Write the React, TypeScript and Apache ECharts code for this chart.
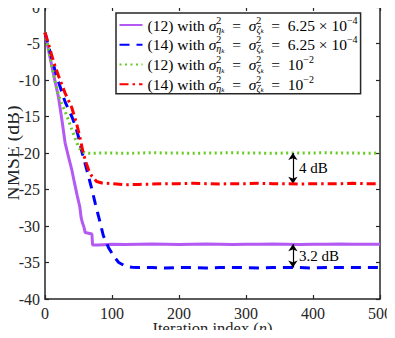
import React, { useEffect, useRef } from "react";
import * as echarts from "echarts";

const FONT = "Liberation Serif";

const xTicks = [0, 100, 200, 300, 400, 500];
const yTicks = [-40, -35, -30, -25, -20, -15, -10, -5, 0];

const seriesNames = [
  "(12) with σ²ηk = σ²ζk = 6.25 × 10^-4",
  "(14) with σ²ηk = σ²ζk = 6.25 × 10^-4",
  "(12) with σ²ηk = σ²ζk = 10^-2",
  "(14) with σ²ηk = σ²ζk = 10^-2",
];
const EQ = "\u2002=\u2002";
const TIMES = " × ";
const SIG = (g: string) => `{i|σ}{sup|2}{sub|${g}}{ss|k}`;
const legendRich = [
  `(12) with ${SIG("η")}${EQ}${SIG("ζ")}${EQ}6.25${TIMES}10{e|−4}`,
  `(14) with ${SIG("η")}${EQ}${SIG("ζ")}${EQ}6.25${TIMES}10{e|−4}`,
  `(12) with ${SIG("η")}${EQ}${SIG("ζ")}${EQ}10{e|−2}`,
  `(14) with ${SIG("η")}${EQ}${SIG("ζ")}${EQ}10{e|−2}`,
];
const colors = ["#B45AF2", "#0000FF", "#66CC22", "#FF0000"];

// (12), sigma^2 = 6.25e-4  (purple, solid)
const purpleN = [0, 5, 10, 15, 20, 25, 30, 35, 40, 44, 48, 52, 54, 56, 58, 60, 65, 70, 71, 80,
  100, 120, 140, 160, 180, 200, 220, 240, 260, 280, 300, 320, 340, 360, 380, 400, 420, 440, 460, 480, 500];
const purpleDb = [-3.5, -5.8, -8.0, -10.2, -12.3, -15.3, -18.6, -20.5, -22.3, -24.1, -25.8, -27.4, -28.9, -29.6, -30.1, -30.9, -31.0, -31.1, -32.6, -32.6,
  -32.5, -32.55, -32.5, -32.45, -32.5, -32.55, -32.5, -32.45, -32.5, -32.55, -32.5, -32.5, -32.45, -32.5, -32.55, -32.5, -32.5, -32.45, -32.5, -32.5, -32.5];

// (14), sigma^2 = 6.25e-4  (blue, dashed)
const blueN = [0, 5, 10, 15, 20, 25, 30, 35, 40, 45, 50, 55, 60, 65, 70, 75, 80, 87, 95, 103, 110, 120, 130, 140,
  160, 180, 200, 220, 240, 260, 280, 300, 320, 340, 360, 380, 400, 420, 440, 460, 480, 500];
const blueDb = [-3.5, -5.3, -7.0, -8.7, -10.2, -11.6, -13.0, -14.0, -15.0, -16.2, -17.8, -19.8, -21.5, -23.2, -25.0, -26.9, -28.7, -31.3, -33.0, -34.2, -35.0, -35.5, -35.65, -35.7,
  -35.7, -35.75, -35.7, -35.7, -35.75, -35.7, -35.7, -35.7, -35.75, -35.7, -35.7, -35.7, -35.75, -35.7, -35.7, -35.7, -35.7, -35.7];

// (12), sigma^2 = 1e-2  (green, dotted)
const greenN = [0, 5, 10, 15, 20, 25, 30, 35, 40, 45, 50, 55, 60, 70, 80,
  100, 120, 140, 160, 180, 200, 220, 240, 260, 280, 300, 320, 340, 360, 380, 400, 420, 440, 460, 480, 500];
const greenDb = [-3.5, -5.7, -8.0, -10.2, -12.0, -13.3, -14.3, -15.5, -16.8, -18.0, -19.2, -19.8, -20.0, -20.05, -20.0,
  -20.0, -20.05, -20.0, -19.95, -20.0, -20.0, -20.05, -20.0, -20.0, -19.95, -20.0, -20.0, -20.05, -20.0, -20.0, -20.0, -19.95, -20.0, -20.0, -20.05, -20.0];

// (14), sigma^2 = 1e-2  (red, dash-dot)
const redN = [0, 5, 10, 15, 20, 25, 30, 35, 40, 47, 52, 57, 62, 65, 70, 77, 85, 100, 120, 140,
  160, 180, 200, 220, 240, 260, 280, 300, 320, 340, 360, 380, 400, 420, 440, 460, 480, 500];
const redDb = [-3.5, -5.0, -6.6, -8.1, -9.4, -10.6, -11.8, -12.8, -13.8, -15.9, -17.8, -20.0, -21.5, -22.3, -23.2, -23.9, -24.1, -24.2, -24.35, -24.3,
  -24.25, -24.2, -24.2, -24.15, -24.2, -24.25, -24.2, -24.2, -24.15, -24.2, -24.2, -24.25, -24.2, -24.2, -24.2, -24.15, -24.2, -24.2];

// Annotations: gaps between steady-state levels
const gapIter = 370;
const gapTop = [-20.0, -32.5];
const gapBottom = [-24.2, -35.7];
const gapLabels = ["4 dB", "3.2 dB"];

const zip = (n: number[], v: number[]) => n.map((x, i) => [x, v[i]]);

const AXIS_COLOR = "#262626";

export default function App() {
  const ref = useRef<HTMLDivElement>(null);
  useEffect(() => {
    if (!ref.current) return;
    const chart = echarts.init(ref.current, null, { renderer: "svg" });
    const axisCommon = {
      type: "value" as const,
      axisLine: { show: true, onZero: false, lineStyle: { color: AXIS_COLOR, width: 1.5 } },
      axisTick: { show: true, inside: true, length: 4, lineStyle: { color: AXIS_COLOR, width: 1.2 } },
      splitLine: { show: false },
    };
    const labelStyle = { fontFamily: FONT, fontSize: 16, color: AXIS_COLOR };
    const richLegend = {
      i: { fontFamily: FONT, fontSize: 15.5, fontStyle: "italic", color: "#000", lineHeight: 18 },
      sup: { fontFamily: FONT, fontSize: 10, color: "#000", width: 0.1, padding: [-5, 0, 5, 0], lineHeight: 18 },
      sub: { fontFamily: FONT, fontSize: 10, fontStyle: "italic", color: "#000", padding: [4, 0, -4, 0], lineHeight: 18 },
      ss: { fontFamily: FONT, fontSize: 7, fontStyle: "italic", color: "#000", padding: [6, 0, -6, 0], lineHeight: 18 },
      e: { fontFamily: FONT, fontSize: 10, color: "#000", padding: [-5, 0, 5, 0], lineHeight: 18 },
    };
    const markFor = (k: number) => ({
      markLine: {
        silent: true,
        symbol: ["arrow", "arrow"],
        symbolSize: 7,
        label: { show: false },
        lineStyle: { color: "#000", width: 1.2, type: "solid" },
        data: [[{ coord: [gapIter, gapTop[k]] }, { coord: [gapIter, gapBottom[k]] }]],
      },
      markPoint: {
        silent: true,
        symbol: "circle",
        symbolSize: 0,
        data: [{ coord: [gapIter, (gapTop[k] + gapBottom[k]) / 2] }],
        label: {
          show: true,
          position: "right",
          distance: 6,
          formatter: gapLabels[k],
          fontFamily: FONT,
          fontSize: 15,
          color: "#000",
        },
      },
    });
    const lineSeries = (idx: number, data: number[][], type: any, width: number, extra: any = {}) => ({
      type: "line",
      name: seriesNames[idx],
      data,
      symbol: "none",
      xAxisIndex: 0,
      yAxisIndex: 0,
      lineStyle: { color: colors[idx], width, type },
      itemStyle: { color: colors[idx] },
      z: 2 + idx,
      ...extra,
    });
    chart.setOption({
      animation: false,
      backgroundColor: "#fff",
      grid: { left: 45, right: 15, top: 7, bottom: 39, outerBoundsMode: "none", containLabel: false },
      xAxis: [
        {
          ...axisCommon,
          position: "bottom",
          min: 0,
          max: 500,
          interval: 100,
          axisLabel: { ...labelStyle, margin: 6 },
          name: "Iteration index ({it|n})",
          nameLocation: "middle",
          nameGap: 21,
          nameMoveOverlap: false,
          nameTextStyle: {
            fontFamily: FONT,
            fontSize: 16.5,
            color: AXIS_COLOR,
            rich: { it: { fontFamily: FONT, fontSize: 16.5, fontStyle: "italic", color: AXIS_COLOR } },
          },
        },
        {
          ...axisCommon,
          position: "top",
          min: 0,
          max: 500,
          interval: 100,
          axisLabel: { show: false },
        },
      ],
      yAxis: [
        {
          ...axisCommon,
          position: "left",
          min: -40,
          max: 0,
          interval: 5,
          axisLabel: { ...labelStyle, margin: 5 },
          name: "NMSE (dB)",
          nameLocation: "middle",
          nameGap: 23,
          nameMoveOverlap: false,
          nameTextStyle: { fontFamily: FONT, fontSize: 19.5, color: AXIS_COLOR },
        },
        {
          ...axisCommon,
          position: "right",
          min: -40,
          max: 0,
          interval: 5,
          axisLabel: { show: false },
        },
      ],
      legend: {
        orient: "vertical",
        left: 116,
        top: 13,
        padding: [2, 3, 0, 2.5],
        itemGap: 0.25,
        itemWidth: 23,
        itemHeight: 12,
        backgroundColor: "#fff",
        borderColor: AXIS_COLOR,
        borderWidth: 1.5,
        borderRadius: 0,
        itemStyle: { color: "rgba(0,0,0,0)", borderWidth: 0, opacity: 0 },
        data: seriesNames,
        formatter: (name: string) => legendRich[seriesNames.indexOf(name)],
        textStyle: { fontFamily: FONT, fontSize: 15.5, color: "#000", lineHeight: 18, rich: richLegend },
      },
      series: [
        lineSeries(0, zip(purpleN, purpleDb), "solid", 3, markFor(1)),
        lineSeries(1, zip(blueN, blueDb), [10, 7], 3),
        lineSeries(2, zip(greenN, greenDb), [2, 3.5], 3, markFor(0)),
        lineSeries(3, zip(redN, redDb), [9, 4, 2.5, 4], 3),
      ],
    });
    return () => chart.dispose();
  }, []);
  return <div ref={ref} style={{ width: 395, height: 338, margin: -8 }} />;
}
